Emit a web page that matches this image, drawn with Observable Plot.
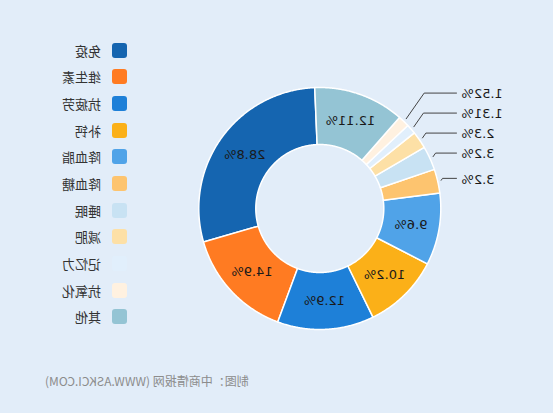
<!DOCTYPE html>
<html>
<head>
<meta charset="utf-8">
<script src="https://cdn.jsdelivr.net/npm/d3@7"></script>
<script src="https://cdn.jsdelivr.net/npm/@observablehq/plot@0.6"></script>
<style>
  html, body { margin: 0; padding: 0; background: #e2edf9; }
  #wrap { position: relative; width: 553px; height: 413px; overflow: hidden; background: #e2edf9;
          transform: scaleX(-1); transform-origin: 50% 50%;
          font-family: "DejaVu Sans", "Noto Sans CJK SC", sans-serif; }
  #chart { position: absolute; left: 0; top: 0; }
  .leg { position: absolute; left: 426px; height: 15px; display: flex; align-items: center; }
  .leg .sw { width: 15px; height: 15px; border-radius: 3px; margin-right: 11px; }
  .leg .lb { font-family: "Noto Sans CJK SC", sans-serif; font-size: 13px; color: #333; white-space: nowrap; }
  #caption { position: absolute; right: 45px; top: 372px; font-family: "Noto Sans CJK SC", sans-serif;
             font-size: 12px; color: #8c8c8c; white-space: nowrap; }
</style>
</head>
<body>
<div id="wrap">
  <div id="chart"></div>
  <div id="legend"></div>
  <div id="caption">制图：中商情报网 (WWW.ASKCI.COM)</div>
</div>
<script>
const names = ["免疫", "维生素", "抗疲劳", "补钙", "降血脂", "降血糖", "睡眠", "减肥", "记忆力", "抗氧化", "其他"];
const values = [28.8, 14.9, 12.9, 10.2, 9.6, 3.2, 3.2, 2.3, 1.31, 1.52, 12.11];
const colors = ["#1565b0", "#ff7b22", "#1e80d8", "#fbb018", "#50a3e8", "#fdc46f", "#c8e2f3", "#fde0a6", "#e1effc", "#fff1e0", "#94c4d4"];

// geometry (pixels)
const W = 553, H = 413;
const CX = 232.7, CY = 208, R = 121, R0 = 64;
const startDeg = 2.4;

// unit <-> pixel via scale domains (1 unit = R px)
const xDomain = [-CX / R, (W - CX) / R];
const yDomain = [(CY - H) / R, CY / R];
const px2u = (px) => (px - CX) / R;

const total = d3.sum(values);
const off = startDeg * Math.PI / 180;
let cum = 0;
const slices = values.map((v, i) => {
  const a0 = off + cum / total * 2 * Math.PI;
  cum += v;
  const a1 = off + cum / total * 2 * Math.PI;
  return { name: names[i], value: v, a0, a1, mid: (a0 + a1) / 2, label: v + "%" };
});

// polygon points for each slice
const inner = R0 / R;
const poly = [];
for (const s of slices) {
  const n = Math.max(2, Math.ceil((s.a1 - s.a0) / (0.4 * Math.PI / 180)));
  for (let k = 0; k <= n; k++) {
    const a = s.a0 + (s.a1 - s.a0) * k / n;
    poly.push({ name: s.name, x: Math.sin(a), y: Math.cos(a) });
  }
  for (let k = n; k >= 0; k--) {
    const a = s.a0 + (s.a1 - s.a0) * k / n;
    poly.push({ name: s.name, x: inner * Math.sin(a), y: inner * Math.cos(a) });
  }
}

// inside labels
const midR = (1 + inner) / 2;
const insideLabels = slices.filter(s => s.value >= 5).map(s => ({
  x: midR * Math.sin(s.mid), y: midR * Math.cos(s.mid), label: s.label
}));

// outside labels with leader lines
const small = slices.filter(s => s.value < 5).map(s => ({
  ...s,
  sx: 1.03 * Math.sin(s.mid), sy: 1.03 * Math.cos(s.mid),
  ey: 1.1 * Math.cos(s.mid)
})).sort((a, b) => a.ey - b.ey);
const gap = 20 / R;
for (let i = 1; i < small.length; i++) {
  small[i].ey = Math.max(small[i].ey, small[i - 1].ey + gap);
}
const endX = px2u(96), textX = px2u(91);
const leader = [];
for (const s of small) {
  const ex = s.sx - 0.7 * Math.abs(s.ey - s.sy);
  leader.push({ id: s.name, x: s.sx, y: s.sy });
  leader.push({ id: s.name, x: ex, y: s.ey });
  leader.push({ id: s.name, x: endX, y: s.ey });
}
const outsideLabels = small.map(s => ({ x: textX, y: s.ey, label: s.label }));

const plot = Plot.plot({
  width: W, height: H, margin: 0,
  style: { background: "transparent", fontFamily: "DejaVu Sans, Noto Sans CJK SC, sans-serif" },
  x: { domain: xDomain, axis: null },
  y: { domain: yDomain, axis: null },
  color: { domain: names, range: colors },
  marks: [
    Plot.line(poly, { x: "x", y: "y", z: "name", fill: "name", stroke: "#ffffff", strokeWidth: 1.5, curve: "linear-closed" }),
    Plot.text(insideLabels, { x: "x", y: "y", text: "label", fontSize: 13, fill: "#1a1a1a" }),
    Plot.line(leader, { x: "x", y: "y", z: "id", stroke: "#444", strokeWidth: 1 }),
    Plot.text(outsideLabels, { x: "x", y: "y", text: "label", textAnchor: "end", dy: 1, fontSize: 13, fill: "#1a1a1a" })
  ]
});
document.getElementById("chart").appendChild(plot);

// legend
const legend = document.getElementById("legend");
names.forEach((n, i) => {
  const row = document.createElement("div");
  row.className = "leg";
  row.style.top = (42.5 + i * 26.67) + "px";
  const sw = document.createElement("div");
  sw.className = "sw";
  sw.style.background = colors[i];
  const lb = document.createElement("div");
  lb.className = "lb";
  lb.textContent = n;
  row.appendChild(sw);
  row.appendChild(lb);
  legend.appendChild(row);
});
</script>
</body>
</html>
